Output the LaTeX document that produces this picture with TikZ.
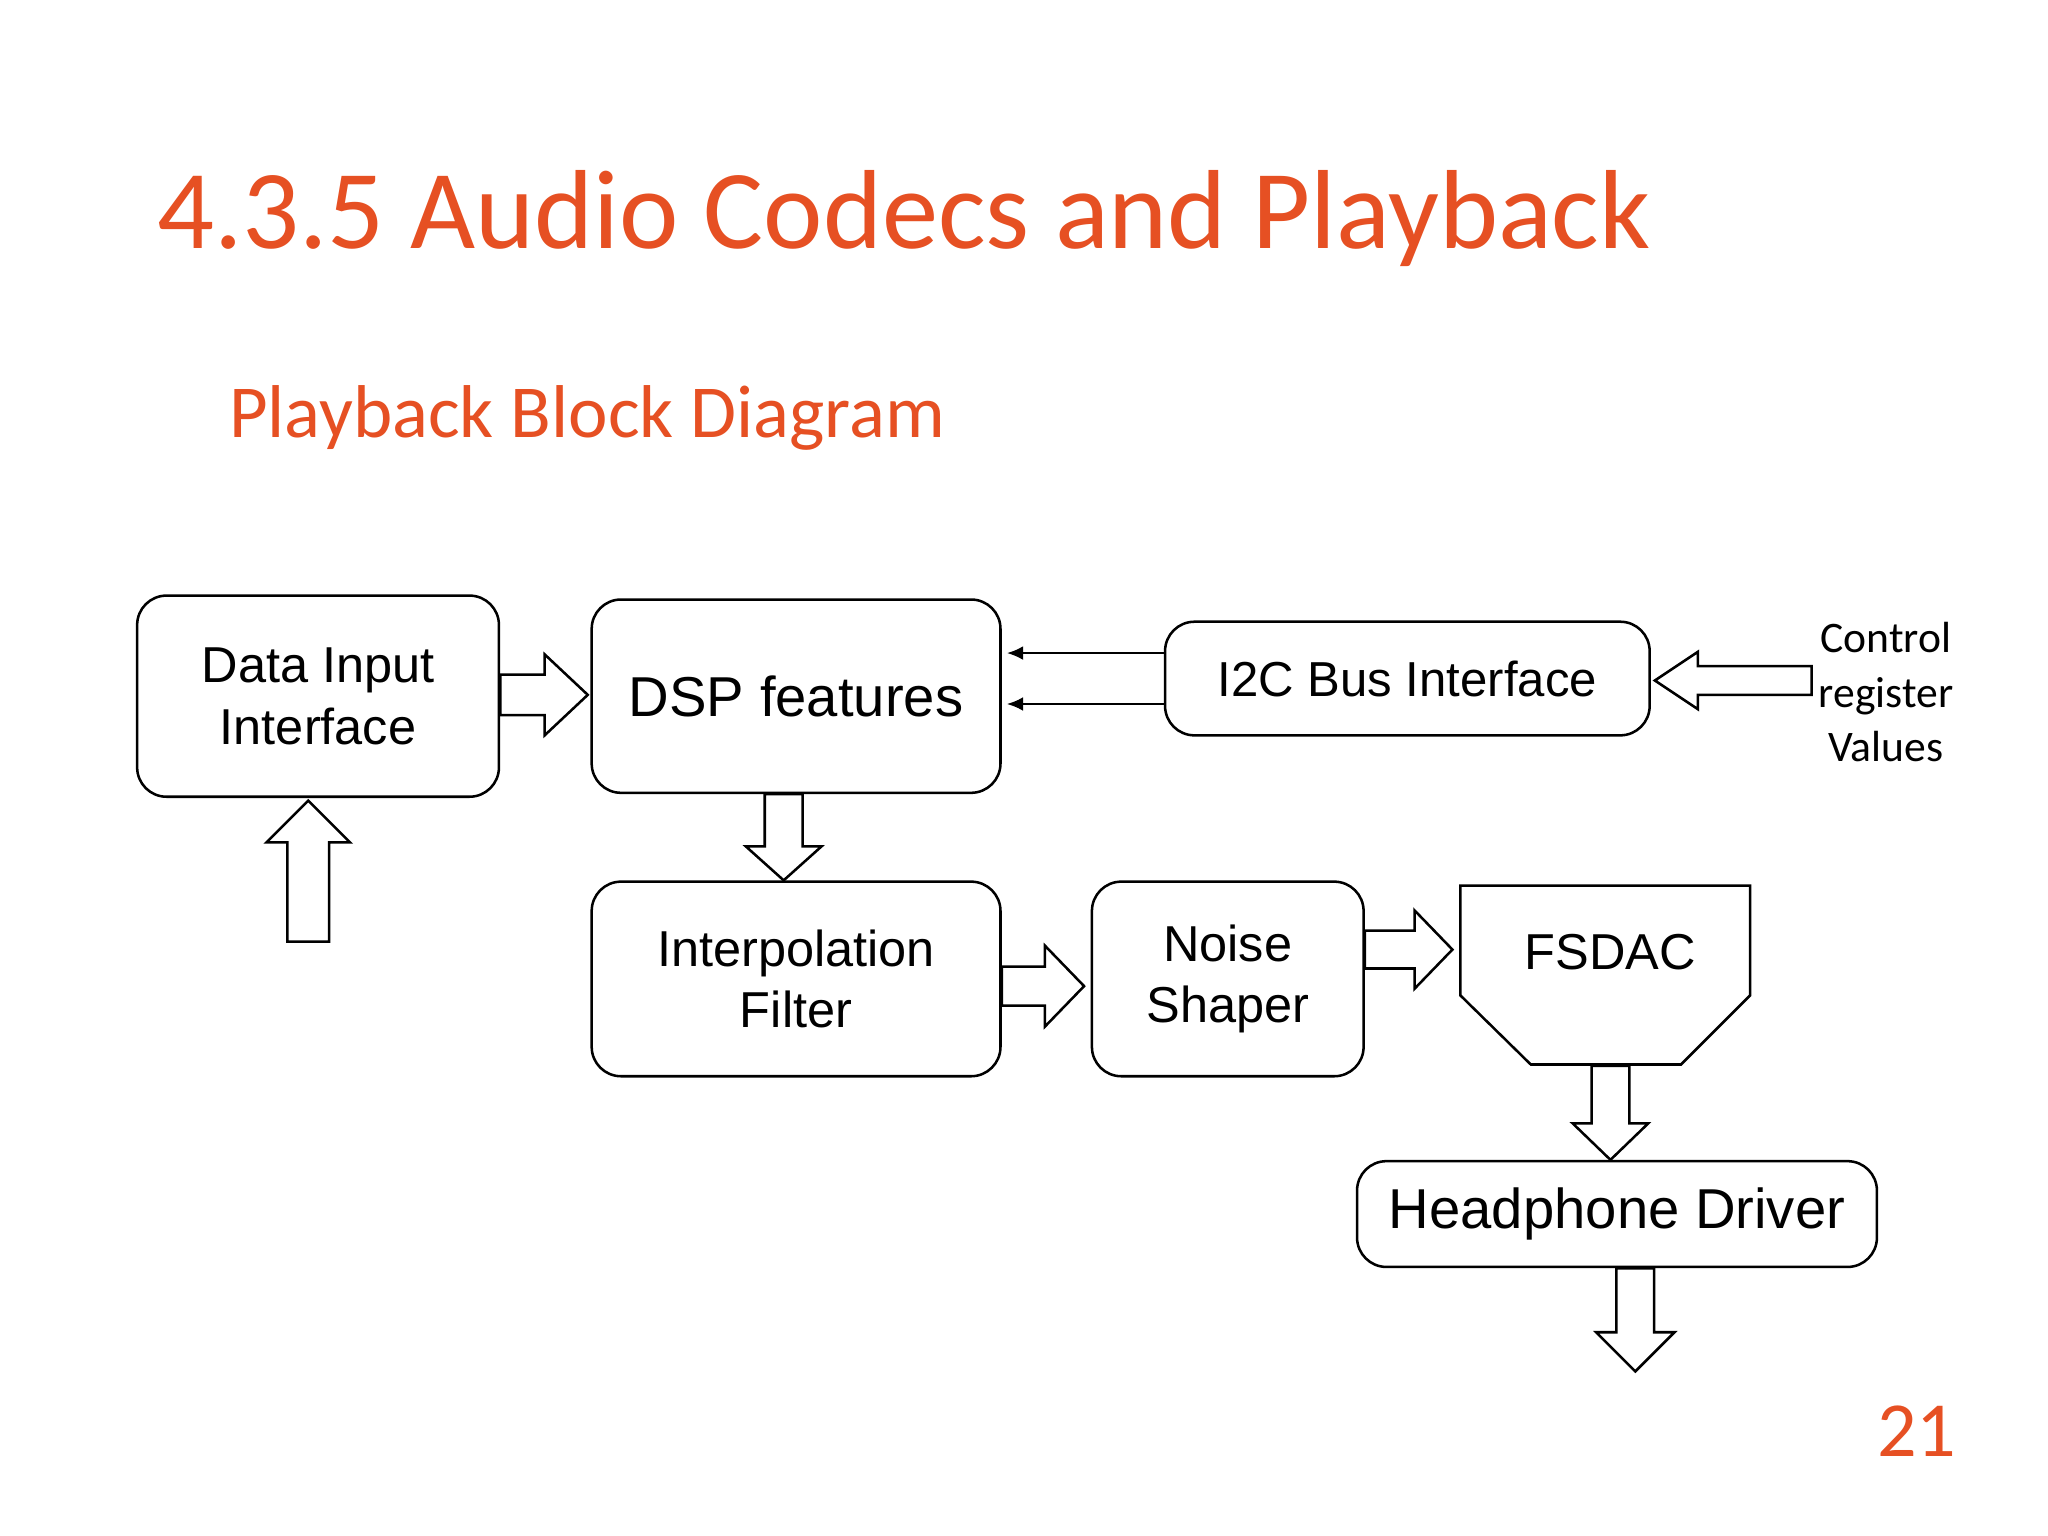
\documentclass[tikz,border=0pt]{standalone}
\usepackage{fontspec}
\setmainfont{Liberation Sans}
\newfontfamily\calfont{Carlito}
\usetikzlibrary{arrows.meta}
\definecolor{ttl}{RGB}{230,80,35}
\tikzset{
  box/.style 2 args={draw, line width=1.1pt, rounded corners=0.45cm, align=center,
     minimum width=#1*0.02cm, minimum height=#2*0.02cm, inner sep=0pt, font=\fontsize{22}{27}\selectfont},
  barrow/.style={draw, line width=1.1pt, fill=white, line join=miter},
  sarrow/.style={line width=0.9pt, -{Latex[length=7pt,width=6pt]}, shorten >=4*0.02cm}
}
\newcommand{\blockarrow}[6]{\draw[barrow,shift={#1},rotate=#2] (0,-#4)--({#3-#6},-#4)--({#3-#6},-#5)--(#3,0)--({#3-#6},#5)--({#3-#6},#4)--(0,#4)--cycle;}
\begin{document}
\begin{tikzpicture}[x=0.02cm,y=-0.02cm]
\useasboundingbox[fill=white] (0,0) rectangle (1568,1176);
\node[anchor=base west, text=ttl, font=\calfont\fontsize{49}{55}\selectfont, inner sep=0] (title) at (120,190) {4.3.5 Audio Codecs and Playback};
\node[anchor=base west, text=ttl, font=\calfont\fontsize{32.6}{38}\selectfont, inner sep=0] (sub) at (175,335) {Playback Block Diagram};
\node[anchor=base east, text=ttl, font=\calfont\fontsize{34}{38}\selectfont, inner sep=0] (page) at (1498,1115) {21};

\node[box={277}{154}] (data) at (243.5,533) {Data Input\\Interface};
\node[box={313}{148}, font=\fontsize{24.5}{29}\selectfont] (dsp) at (609.5,533) {DSP features};
\node[box={371}{87}, font=\fontsize{21.4}{26}\selectfont] (i2c) at (1077.5,519.5) {I2C Bus Interface};
\node[box={313}{149}] (interp) at (609.5,749.5) {Interpolation\\Filter};
\node[box={208}{149}] (noise) at (940,749.5) {Noise\\Shaper};
\node[box={398}{81}, font=\fontsize{24.5}{29}\selectfont] (hp) at (1238,929.5) {Headphone Driver};
\draw[line width=1.1pt, line join=miter] (1118,678)--(1340,678)--(1340,762)--(1287,815)--(1172,815)--(1118,762)--cycle;
\node[font=\fontsize{22}{27}\selectfont] (fsdac) at (1233,729) {FSDAC};
\node[font=\calfont\fontsize{19}{23.8}\selectfont, align=center] (ctrl) at (1444,530) {Control\\register\\Values};

\blockarrow{(383,532)}{0}{67}{15.5}{31}{33}
\blockarrow{(236,721)}{90}{108}{16}{32}{32}
\blockarrow{(600,608)}{-90}{66}{14.5}{29}{26}
\blockarrow{(767,755)}{0}{63}{15}{31}{30}
\blockarrow{(1045,727)}{0}{67}{14.5}{30}{29}
\blockarrow{(1233,816)}{-90}{72}{14.5}{29}{28}
\blockarrow{(1252,971)}{-90}{79}{14.5}{30}{30}
\blockarrow{(1387,521)}{180}{120}{11}{22}{33}

\draw[sarrow] ([yshift=0.39cm]i2c.west) -- ([yshift=0.39cm]i2c.west -| dsp.east);
\draw[sarrow] ([yshift=-0.39cm]i2c.west) -- ([yshift=-0.39cm]i2c.west -| dsp.east);
\end{tikzpicture}
\end{document}
